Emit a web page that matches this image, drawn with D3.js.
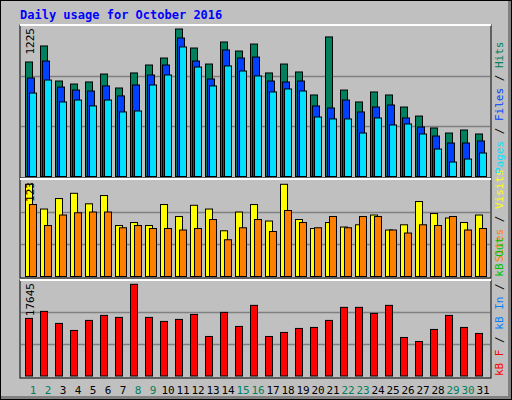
<!DOCTYPE html><html><head><meta charset="utf-8">
<script src="https://cdn.jsdelivr.net/npm/d3@7"></script>
<style>body{margin:0;background:#fff}</style></head><body>
<svg id="c" width="512" height="400"></svg>
<script>
const days = d3.range(1,32);
const weekend = [1,2,8,9,15,16,22,23,29,30];
const hits  = [951,1084,793,768,785,851,735,860,926,984,1225,1067,934,1117,1042,1100,860,934,868,677,1159,718,619,702,677,577,502,403,361,386,353];
const files = [818,959,743,718,710,752,669,760,843,926,1150,959,810,1051,984,992,793,785,793,586,569,635,536,577,594,486,411,336,278,278,295];
const pages = [693,801,619,635,586,635,536,544,760,843,1076,909,752,918,876,835,702,727,710,494,478,478,361,486,428,436,353,228,120,145,195];
const visits= [123,90,104,111,97,108,68,72,68,96,80,95,90,61,86,96,74,123,76,64,72,66,69,82,62,69,100,84,78,72,82];
const sites = [96,68,82,85,86,86,65,68,64,64,62,64,76,49,65,76,60,88,72,65,80,65,80,80,62,58,69,68,80,62,64];
const kbytes= [11081,12432,10116,8765,10695,11660,11274,17645,11274,10502,10888,11853,7606,12240,9537,13591,7606,8378,9151,9344,10695,13205,13205,12046,13591,7413,6641,8958,11660,9344,8185];

const svg = d3.select("#c");
const mono = "DejaVu Sans Mono, monospace";
svg.append("rect").attr("width",512).attr("height",400).attr("fill","#000");
svg.append("rect").attr("x",1).attr("y",1).attr("width",510).attr("height",398).attr("fill","#808080");
svg.append("rect").attr("x",1).attr("y",1).attr("width",507).attr("height",395).attr("fill","#c0c0c0");
svg.append("text").attr("x",20).attr("y",19).attr("fill","#0000ff").attr("font-family",mono)
  .attr("font-weight","bold").attr("font-size",12).text("Daily usage for October 2016");

const x = d3.scaleBand().domain(days).range([22.5,487.5]).paddingInner(0);
const panels = [
 {top:25,bot:178,base:176.5,maxY:29,max:1225,label:"1225",series:[[hits,"#00805c",0],[files,"#0040ff",2],[pages,"#00e0ff",4]]},
 {top:179,bot:278,base:276.5,maxY:184.3,max:123,label:"123",series:[[visits,"#ffff00",0],[sites,"#ff8000",4]]},
 {top:280,bot:378,base:376,maxY:284.3,max:17645,label:"17645",series:[[kbytes,"#ff0000",0]]}
];
panels.forEach(p=>{
  const g = svg.append("g");
  g.append("rect").attr("x",20).attr("y",p.top).attr("width",471).attr("height",p.bot-p.top).attr("fill","#c0c0c0").attr("stroke","#000");
  g.append("line").attr("x1",20).attr("x2",491).attr("y1",p.top).attr("y2",p.top).attr("stroke","#fff").attr("stroke-width",2);
  const y = d3.scaleLinear().domain([0,p.max]).range([p.base,p.maxY]);
  const span = p.base - p.top;
  [1/3,2/3].forEach(f=>{
    const gy = Math.round(p.base - span*f)+0.5;
    g.append("line").attr("x1",21).attr("x2",490).attr("y1",gy).attr("y2",gy).attr("stroke","#808080").attr("stroke-width",1.5);
  });
  p.series.forEach(([vals,col,off])=>{
    g.selectAll(null).data(vals).enter().append("rect")
     .attr("x",(d,i)=>x(days[i])+3+off).attr("y",d=>y(d))
     .attr("width",7).attr("height",d=>p.base-y(d))
     .attr("fill",col).attr("stroke","#000").attr("stroke-width",1);
  });
  g.append("text").attr("transform",`translate(34,${p.top+3}) rotate(-90)`).attr("text-anchor","end")
   .attr("font-family",mono).attr("font-size",11).attr("fill","#000").text(p.label);
});

// x labels
svg.selectAll(".dl").data(days).enter().append("text")
  .attr("x",d=>x(d)+x.bandwidth()/2+3).attr("y",394).attr("text-anchor","middle")
  .attr("font-family",mono).attr("font-size",11)
  .attr("fill",d=>weekend.includes(d)?"#00805c":"#000").text(d=>d);

// right legends
function legend(parts, yBottom){
  const t = svg.append("text").attr("transform",`translate(503,${yBottom}) rotate(-90)`)
    .attr("font-family",mono).attr("font-size",11);
  parts.forEach(([s,c])=>t.append("tspan").attr("fill",c).text(s));
}
legend([["Pages","#00e0ff"],[" / ","#000"],["Files","#0040ff"],[" / ","#000"],["Hits","#00805c"]],174);
legend([["Sites","#ff8000"],[" / ","#000"],["Visits","#ffff00"]],262);
legend([["kB F","#ff0000"],[" / ","#000"],["kB In","#0080ff"],[" / ","#000"],["kB Out","#00c000"]],376);
</script></body></html>
